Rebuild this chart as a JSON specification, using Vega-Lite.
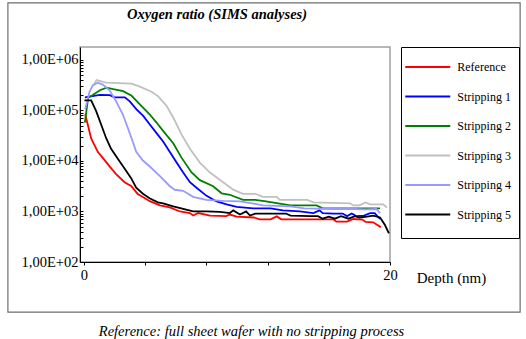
{
  "$schema": "https://vega.github.io/schema/vega-lite/v6.json",
  "width": 310,
  "height": 215,
  "autosize": {"type": "none"},
  "padding": {"left": 80, "top": 47, "right": 136, "bottom": 77},
  "background": "white",
  "config": {
    "font": "Liberation Serif",
    "view": {"stroke": "#a0a0a0", "strokeWidth": 1.5},
    "axis": {"grid": false, "labelFont": "Liberation Serif", "titleFont": "Liberation Serif", "labelColor": "black", "titleColor": "black", "domainColor": "black", "tickColor": "black"}
  },
  "title": {
    "text": "Oxygen ratio (SIMS analyses)",
    "anchor": "start",
    "frame": "group",
    "dx": 47,
    "dy": 48,
    "offset": 28,
    "font": "Liberation Serif",
    "fontSize": 14.5,
    "fontStyle": "italic",
    "fontWeight": "bold",
    "color": "black"
  },
  "layer": [
    {
      "data": {"values": [{}]},
      "mark": {"type": "rect", "filled": false, "stroke": "#6e6e6e", "strokeWidth": 1.2, "clip": false},
      "encoding": {
        "x": {"datum": -4.96, "type": "quantitative"},
        "x2": {"datum": 28.5},
        "y": {"datum": 13400000, "type": "quantitative"},
        "y2": {"datum": 10.2}
      }
    },
    {
      "data": {"name": "sims"},
      "mark": {"type": "line", "strokeWidth": 1.8},
      "encoding": {
        "x": {
          "field": "d", "type": "quantitative",
          "scale": {"domain": [-0.25, 20], "nice": false, "zero": false},
          "axis": {
            "values": [0,1,2,3,4,5,6,7,8,9,10,11,12,13,14,15,16,17,18,19,20],
            "labelExpr": "datum.value % 5 == 0 ? datum.label : ''",
            "tickSize": 3,
            "labelFontSize": 14.5,
            "labelPadding": 3,
            "labelFlush": false,
            "labelOverlap": false,
            "title": "Depth (nm)",
            "titleFontSize": 15,
            "titleFontWeight": "normal",
            "titleX": 371,
            "titleY": 15,
            "titleAlign": "center",
            "titleBaseline": "middle"
          }
        },
        "y": {
          "field": "v", "type": "quantitative",
          "scale": {"type": "log", "domain": [100, 1800000], "nice": false},
          "axis": {
            "values": [100,200,300,400,500,600,700,800,900,1000,2000,3000,4000,5000,6000,7000,8000,9000,10000,20000,30000,40000,50000,60000,70000,80000,90000,100000,200000,300000,400000,500000,600000,700000,800000,900000,1000000],
            "labelExpr": "abs(log(datum.value)/LN10 - round(log(datum.value)/LN10)) < 0.001 ? '1,00E+0' + round(log(datum.value)/LN10) : ''",
            "tickSize": -3,
            "labelPadding": 5,
            "labelFontSize": 14.5,
            "labelOverlap": false,
            "labelFlush": false,
            "title": "Reference: full sheet wafer with no stripping process",
            "titleAngle": 0,
            "titleX": 171,
            "titleY": 284,
            "titleAlign": "center",
            "titleBaseline": "middle",
            "titleFontSize": 14.5,
            "titleFontStyle": "italic",
            "titleFontWeight": "normal"
          }
        },
        "color": {
          "field": "s", "type": "nominal",
          "scale": {
            "domain": ["Reference", "Stripping 1", "Stripping 2", "Stripping 3", "Stripping 4", "Stripping 5"],
            "range": ["#ff0000", "#0000ff", "#008000", "#c0c0c0", "#9999ff", "#000000"]
          },
          "legend": {
            "orient": "none",
            "legendX": 321,
            "legendY": 0,
            "title": " ",
            "titleOrient": "bottom",
            "titleFontSize": 5,
            "titlePadding": 5,
            "strokeColor": "black",
            "fillColor": "white",
            "padding": 7.5,
            "symbolType": "M-2,0H2",
            "symbolSize": 506,
            "symbolStrokeWidth": 2,
            "symbolOffset": 6.75,
            "rowPadding": 10.5,
            "labelFont": "Liberation Serif",
            "labelFontSize": 12,
            "labelColor": "black",
            "labelOffset": 17
          }
        },
        "order": {"field": "i", "type": "quantitative"}
      }
    }
  ],
  "datasets": {
    "sims": [
      {"s":"Reference","i":1,"d":0.09,"v":84000},{"s":"Reference","i":2,"d":0.48,"v":28000},{"s":"Reference","i":3,"d":0.92,"v":15000},{"s":"Reference","i":4,"d":1.24,"v":11500},{"s":"Reference","i":5,"d":1.68,"v":7800},{"s":"Reference","i":6,"d":2.11,"v":5500},{"s":"Reference","i":7,"d":2.66,"v":3800},{"s":"Reference","i":8,"d":3.09,"v":3200},{"s":"Reference","i":9,"d":3.53,"v":2200},{"s":"Reference","i":10,"d":3.66,"v":2100},{"s":"Reference","i":11,"d":4.31,"v":1600},{"s":"Reference","i":12,"d":4.97,"v":1320},{"s":"Reference","i":13,"d":5.62,"v":1200},{"s":"Reference","i":14,"d":6.27,"v":1000},{"s":"Reference","i":15,"d":6.93,"v":930},{"s":"Reference","i":16,"d":7.14,"v":830},{"s":"Reference","i":17,"d":7.47,"v":930},{"s":"Reference","i":18,"d":8.24,"v":830},{"s":"Reference","i":19,"d":9.3,"v":810},{"s":"Reference","i":20,"d":9.54,"v":870},{"s":"Reference","i":21,"d":9.98,"v":790},{"s":"Reference","i":22,"d":11.1,"v":760},{"s":"Reference","i":23,"d":11.5,"v":700},{"s":"Reference","i":24,"d":12.2,"v":700},{"s":"Reference","i":25,"d":12.6,"v":800},{"s":"Reference","i":26,"d":12.9,"v":700},{"s":"Reference","i":27,"d":14.1,"v":700},{"s":"Reference","i":28,"d":16.3,"v":700},{"s":"Reference","i":29,"d":16.5,"v":630},{"s":"Reference","i":30,"d":17.2,"v":630},{"s":"Reference","i":31,"d":17.6,"v":710},{"s":"Reference","i":32,"d":18.2,"v":690},{"s":"Reference","i":33,"d":18.4,"v":620},{"s":"Reference","i":34,"d":18.9,"v":610},{"s":"Reference","i":35,"d":19.1,"v":560},{"s":"Reference","i":36,"d":19.4,"v":490},

      {"s":"Stripping 1","i":1,"d":0.07,"v":182000},{"s":"Stripping 1","i":2,"d":1.05,"v":204000},{"s":"Stripping 1","i":3,"d":1.7,"v":200000},{"s":"Stripping 1","i":4,"d":2.0,"v":182000},{"s":"Stripping 1","i":5,"d":2.68,"v":182000},{"s":"Stripping 1","i":6,"d":3.0,"v":151000},{"s":"Stripping 1","i":7,"d":3.44,"v":105000},{"s":"Stripping 1","i":8,"d":3.88,"v":78000},{"s":"Stripping 1","i":9,"d":4.31,"v":52500},{"s":"Stripping 1","i":10,"d":4.75,"v":35500},{"s":"Stripping 1","i":11,"d":5.19,"v":24000},{"s":"Stripping 1","i":12,"d":5.62,"v":15100},{"s":"Stripping 1","i":13,"d":6.06,"v":9300},{"s":"Stripping 1","i":14,"d":6.49,"v":5900},{"s":"Stripping 1","i":15,"d":6.93,"v":3800},{"s":"Stripping 1","i":16,"d":7.36,"v":2950},{"s":"Stripping 1","i":17,"d":8.02,"v":2040},{"s":"Stripping 1","i":18,"d":8.67,"v":1580},{"s":"Stripping 1","i":19,"d":9.33,"v":1380},{"s":"Stripping 1","i":20,"d":9.98,"v":1230},{"s":"Stripping 1","i":21,"d":11.07,"v":1150},{"s":"Stripping 1","i":22,"d":12.2,"v":1150},{"s":"Stripping 1","i":23,"d":13.0,"v":1050},{"s":"Stripping 1","i":24,"d":14.1,"v":1000},{"s":"Stripping 1","i":25,"d":15.0,"v":930},{"s":"Stripping 1","i":26,"d":15.4,"v":1050},{"s":"Stripping 1","i":27,"d":15.6,"v":930},{"s":"Stripping 1","i":28,"d":16.3,"v":910},{"s":"Stripping 1","i":29,"d":16.9,"v":910},{"s":"Stripping 1","i":30,"d":17.2,"v":810},{"s":"Stripping 1","i":31,"d":17.5,"v":910},{"s":"Stripping 1","i":32,"d":17.8,"v":810},{"s":"Stripping 1","i":33,"d":18.3,"v":830},{"s":"Stripping 1","i":34,"d":18.7,"v":930},{"s":"Stripping 1","i":35,"d":19.0,"v":930},{"s":"Stripping 1","i":36,"d":19.2,"v":790},{"s":"Stripping 1","i":37,"d":19.35,"v":710},

      {"s":"Stripping 2","i":1,"d":0.07,"v":57500},{"s":"Stripping 2","i":2,"d":0.28,"v":178000},{"s":"Stripping 2","i":3,"d":0.61,"v":204000},{"s":"Stripping 2","i":4,"d":1.05,"v":251000},{"s":"Stripping 2","i":5,"d":1.48,"v":282000},{"s":"Stripping 2","i":6,"d":1.92,"v":263000},{"s":"Stripping 2","i":7,"d":2.57,"v":240000},{"s":"Stripping 2","i":8,"d":3.12,"v":195000},{"s":"Stripping 2","i":9,"d":3.66,"v":132000},{"s":"Stripping 2","i":10,"d":4.31,"v":83000},{"s":"Stripping 2","i":11,"d":4.75,"v":57500},{"s":"Stripping 2","i":12,"d":5.19,"v":39000},{"s":"Stripping 2","i":13,"d":5.84,"v":22400},{"s":"Stripping 2","i":14,"d":6.39,"v":11500},{"s":"Stripping 2","i":15,"d":7.04,"v":5900},{"s":"Stripping 2","i":16,"d":7.58,"v":4170},{"s":"Stripping 2","i":17,"d":8.45,"v":3160},{"s":"Stripping 2","i":18,"d":9.0,"v":2290},{"s":"Stripping 2","i":19,"d":9.54,"v":2140},{"s":"Stripping 2","i":20,"d":10.4,"v":1700},{"s":"Stripping 2","i":21,"d":11.2,"v":1700},{"s":"Stripping 2","i":22,"d":11.9,"v":1580},{"s":"Stripping 2","i":23,"d":12.7,"v":1450},{"s":"Stripping 2","i":24,"d":13.5,"v":1320},{"s":"Stripping 2","i":25,"d":15.2,"v":1320},{"s":"Stripping 2","i":26,"d":15.6,"v":1150},{"s":"Stripping 2","i":27,"d":17.3,"v":1150},{"s":"Stripping 2","i":28,"d":19.35,"v":1150},

      {"s":"Stripping 3","i":1,"d":0.65,"v":316000},{"s":"Stripping 3","i":2,"d":0.83,"v":398000},{"s":"Stripping 3","i":3,"d":1.48,"v":355000},{"s":"Stripping 3","i":4,"d":3.12,"v":339000},{"s":"Stripping 3","i":5,"d":3.66,"v":295000},{"s":"Stripping 3","i":6,"d":4.42,"v":234000},{"s":"Stripping 3","i":7,"d":4.86,"v":190000},{"s":"Stripping 3","i":8,"d":5.4,"v":123000},{"s":"Stripping 3","i":9,"d":5.84,"v":72400},{"s":"Stripping 3","i":10,"d":6.39,"v":33100},{"s":"Stripping 3","i":11,"d":6.93,"v":17400},{"s":"Stripping 3","i":12,"d":7.58,"v":9300},{"s":"Stripping 3","i":13,"d":8.24,"v":5900},{"s":"Stripping 3","i":14,"d":9.1,"v":3800},{"s":"Stripping 3","i":15,"d":9.76,"v":2700},{"s":"Stripping 3","i":16,"d":10.4,"v":2240},{"s":"Stripping 3","i":17,"d":11.2,"v":2240},{"s":"Stripping 3","i":18,"d":11.7,"v":1950},{"s":"Stripping 3","i":19,"d":12.6,"v":1950},{"s":"Stripping 3","i":20,"d":12.8,"v":1700},{"s":"Stripping 3","i":21,"d":14.6,"v":1700},{"s":"Stripping 3","i":22,"d":15.0,"v":1510},{"s":"Stripping 3","i":23,"d":17.4,"v":1450},{"s":"Stripping 3","i":24,"d":17.6,"v":1320},{"s":"Stripping 3","i":25,"d":18.0,"v":1320},{"s":"Stripping 3","i":26,"d":18.4,"v":1510},{"s":"Stripping 3","i":27,"d":18.7,"v":1380},{"s":"Stripping 3","i":28,"d":19.56,"v":1380},{"s":"Stripping 3","i":29,"d":19.8,"v":1200},

      {"s":"Stripping 4","i":1,"d":0.085,"v":105000},{"s":"Stripping 4","i":2,"d":0.37,"v":234000},{"s":"Stripping 4","i":3,"d":0.59,"v":316000},{"s":"Stripping 4","i":4,"d":0.92,"v":355000},{"s":"Stripping 4","i":5,"d":1.24,"v":324000},{"s":"Stripping 4","i":6,"d":1.68,"v":251000},{"s":"Stripping 4","i":7,"d":2.11,"v":151000},{"s":"Stripping 4","i":8,"d":2.55,"v":83000},{"s":"Stripping 4","i":9,"d":2.88,"v":44700},{"s":"Stripping 4","i":10,"d":3.2,"v":24000},{"s":"Stripping 4","i":11,"d":3.42,"v":15100},{"s":"Stripping 4","i":12,"d":3.86,"v":10200},{"s":"Stripping 4","i":13,"d":4.31,"v":7760},{"s":"Stripping 4","i":14,"d":4.97,"v":5010},{"s":"Stripping 4","i":15,"d":5.62,"v":3160},{"s":"Stripping 4","i":16,"d":5.95,"v":2690},{"s":"Stripping 4","i":17,"d":6.49,"v":2570},{"s":"Stripping 4","i":18,"d":7.14,"v":1950},{"s":"Stripping 4","i":19,"d":8.0,"v":1700},{"s":"Stripping 4","i":20,"d":9.1,"v":1620},{"s":"Stripping 4","i":21,"d":10.2,"v":1580},{"s":"Stripping 4","i":22,"d":11.0,"v":1450},{"s":"Stripping 4","i":23,"d":11.7,"v":1320},{"s":"Stripping 4","i":24,"d":13.5,"v":1260},{"s":"Stripping 4","i":25,"d":14.4,"v":1150},{"s":"Stripping 4","i":26,"d":16.4,"v":1120},{"s":"Stripping 4","i":27,"d":17.7,"v":1120},{"s":"Stripping 4","i":28,"d":18.4,"v":1100},{"s":"Stripping 4","i":29,"d":19.1,"v":1120},{"s":"Stripping 4","i":30,"d":19.35,"v":930},

      {"s":"Stripping 5","i":1,"d":0.04,"v":158000},{"s":"Stripping 5","i":2,"d":0.48,"v":158000},{"s":"Stripping 5","i":3,"d":0.8,"v":97700},{"s":"Stripping 5","i":4,"d":1.13,"v":52500},{"s":"Stripping 5","i":5,"d":1.46,"v":28200},{"s":"Stripping 5","i":6,"d":1.78,"v":17400},{"s":"Stripping 5","i":7,"d":2.22,"v":11000},{"s":"Stripping 5","i":8,"d":2.66,"v":7080},{"s":"Stripping 5","i":9,"d":3.09,"v":4570},{"s":"Stripping 5","i":10,"d":3.42,"v":2950},{"s":"Stripping 5","i":11,"d":3.86,"v":2240},{"s":"Stripping 5","i":12,"d":4.29,"v":1820},{"s":"Stripping 5","i":13,"d":4.84,"v":1510},{"s":"Stripping 5","i":14,"d":5.18,"v":1450},{"s":"Stripping 5","i":15,"d":5.84,"v":1260},{"s":"Stripping 5","i":16,"d":6.49,"v":1120},{"s":"Stripping 5","i":17,"d":7.14,"v":1000},{"s":"Stripping 5","i":18,"d":8.02,"v":1000},{"s":"Stripping 5","i":19,"d":8.9,"v":980},{"s":"Stripping 5","i":20,"d":9.54,"v":930},{"s":"Stripping 5","i":21,"d":9.76,"v":1050},{"s":"Stripping 5","i":22,"d":10.2,"v":870},{"s":"Stripping 5","i":23,"d":10.6,"v":1000},{"s":"Stripping 5","i":24,"d":10.85,"v":830},{"s":"Stripping 5","i":25,"d":11.2,"v":910},{"s":"Stripping 5","i":26,"d":11.7,"v":910},{"s":"Stripping 5","i":27,"d":13.2,"v":910},{"s":"Stripping 5","i":28,"d":13.5,"v":830},{"s":"Stripping 5","i":29,"d":14.8,"v":810},{"s":"Stripping 5","i":30,"d":15.3,"v":810},{"s":"Stripping 5","i":31,"d":15.6,"v":720},{"s":"Stripping 5","i":32,"d":16.0,"v":790},{"s":"Stripping 5","i":33,"d":16.4,"v":720},{"s":"Stripping 5","i":34,"d":16.8,"v":810},{"s":"Stripping 5","i":35,"d":17.3,"v":720},{"s":"Stripping 5","i":36,"d":17.7,"v":810},{"s":"Stripping 5","i":37,"d":18.0,"v":760},{"s":"Stripping 5","i":38,"d":18.5,"v":790},{"s":"Stripping 5","i":39,"d":18.9,"v":830},{"s":"Stripping 5","i":40,"d":19.35,"v":760},{"s":"Stripping 5","i":41,"d":19.67,"v":540},{"s":"Stripping 5","i":42,"d":19.93,"v":370}
    ]
  }
}
